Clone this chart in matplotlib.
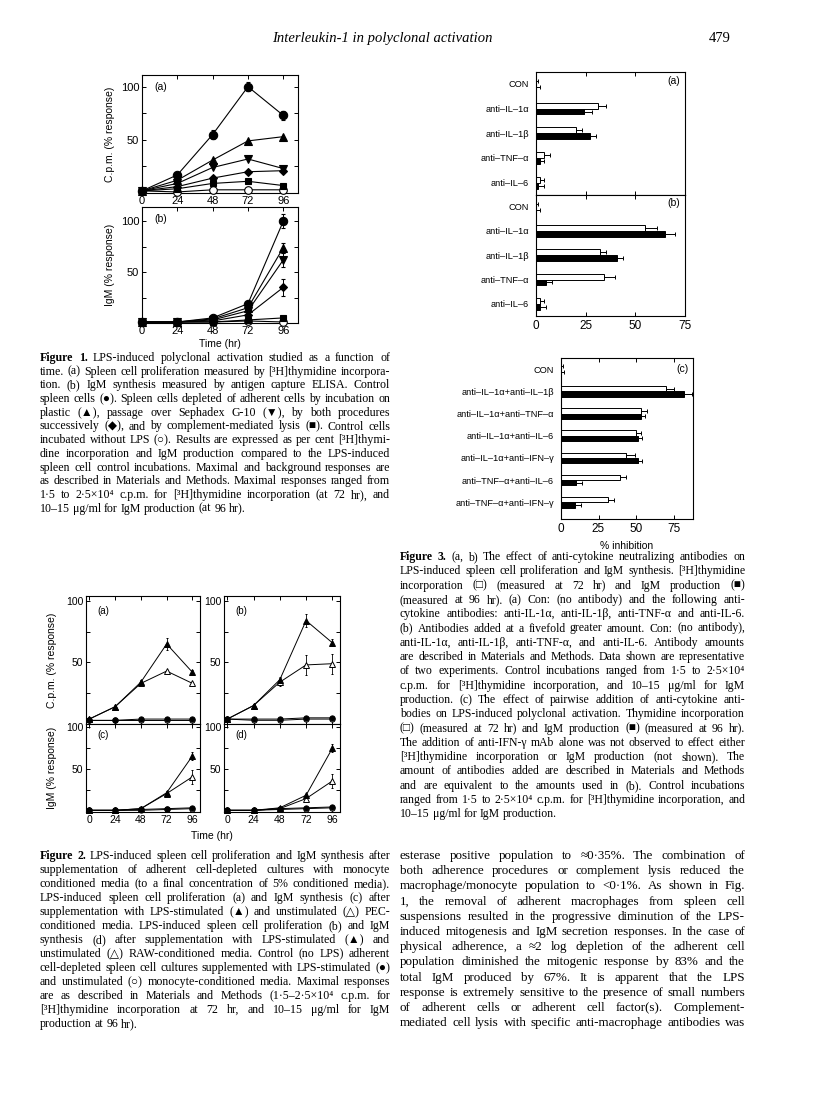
import matplotlib
matplotlib.use("Agg")
import matplotlib.pyplot as plt
import numpy as np

W, H = 816, 1108
fig = plt.figure(figsize=(W / 100, H / 100), dpi=100)
fig.patch.set_facecolor("white")

SANS = ["Liberation Sans", "DejaVu Sans"]
SERIF = ["Liberation Serif", "DejaVu Sans"]

# ---------------- data ----------------
times = [0, 24, 48, 72, 96]

# Figure 1 (a) c.p.m. (% response)
f1a_ctrl = [2, 17, 55, 100, 73]
f1a_plastic = [2, 12, 31, 49, 53]
f1a_g10 = [2, 9, 24, 32, 23]
f1a_both = [2, 6, 14, 20, 21]
f1a_lysis = [2, 4, 9, 11, 7]
f1a_nolps = [2, 1, 3, 3, 3]
f1a_ctrl_err = [0, 1, 4, 4, 4]
# Figure 1 (b) IgM (% response)
f1b_ctrl = [1, 1, 5, 19, 100]
f1b_plastic = [1, 1, 4, 15, 74]
f1b_g10 = [1, 1, 3, 12, 62]
f1b_both = [1, 1, 2, 8, 35]
f1b_lysis = [1, 1, 1, 3, 5]
f1b_nolps = [1, 1, 1, 2, 1]
f1b_ctrl_err = [0, 0, 1, 2, 7]
f1b_plastic_err = [0, 0, 1, 1, 5]
f1b_g10_err = [0, 0, 1, 1, 7]
f1b_both_err = [0, 0, 1, 1, 8]

# Figure 2
f2a_lps = [4, 14, 34, 65, 42]
f2a_unstim = [4, 14, 33, 43, 33]
f2a_ctl_lps = [3, 3, 4, 4, 4]
f2a_ctl_un = [3, 3, 3, 3, 3]
f2b_lps = [4, 15, 36, 84, 66]
f2b_unstim = [4, 15, 34, 48, 49]
f2b_ctl_lps = [4, 4, 4, 5, 5]
f2b_ctl_un = [4, 3, 3, 4, 4]
f2c_lps = [1, 1, 3, 22, 66]
f2c_unstim = [1, 1, 3, 21, 41]
f2c_ctl_lps = [1, 1, 2, 3, 4]
f2c_ctl_un = [1, 1, 1, 2, 3]
f2d_lps = [1, 1, 4, 19, 75]
f2d_unstim = [1, 1, 3, 15, 36]
f2d_ctl_lps = [1, 1, 3, 4, 5]
f2d_ctl_un = [1, 1, 2, 3, 4]
f2a_lps_err = [0, 1, 2, 5, 2]
f2b_lps_err = [0, 1, 2, 5, 3]
f2b_unstim_err = [0, 1, 3, 8, 8]
f2c_lps_err = [0, 0, 1, 2, 5]
f2c_unstim_err = [0, 0, 1, 2, 8]
f2d_lps_err = [0, 0, 1, 2, 5]
f2d_unstim_err = [0, 0, 1, 3, 8]

# Figure 3
f3ab_cats = ["CON", "anti\u2013IL\u20131\u03b1", "anti\u2013IL\u20131\u03b2", "anti\u2013TNF\u2013\u03b1", "anti\u2013IL\u20136"]
f3a_thy = [0, 31, 20, 4, 2]
f3a_thy_err = [1, 4, 3, 3, 2]
f3a_igm = [0, 24, 27, 2, 1]
f3a_igm_err = [2, 4, 3, 2, 3]
f3b_thy = [0, 55, 32, 34, 2]
f3b_thy_err = [1, 6, 3, 6, 2]
f3b_igm = [0, 65, 41, 5, 2]
f3b_igm_err = [2, 5, 3, 3, 3]
f3c_cats = ["CON", "anti\u2013IL\u20131\u03b1+anti\u2013IL\u20131\u03b2", "anti\u2013IL\u20131\u03b1+anti\u2013TNF\u2013\u03b1",
            "anti\u2013IL\u20131\u03b1+anti\u2013IL\u20136", "anti\u2013IL\u20131\u03b1+anti\u2013IFN\u2013\u03b3",
            "anti\u2013TNF\u2013\u03b1+anti\u2013IL\u20136", "anti\u2013TNF\u2013\u03b1+anti\u2013IFN\u2013\u03b3"]
f3c_thy = [0, 70, 53, 50, 43, 39, 31]
f3c_thy_err = [1, 5, 4, 3, 6, 4, 4]
f3c_igm = [0, 82, 53, 51, 51, 10, 9]
f3c_igm_err = [2, 5, 3, 3, 3, 4, 4]
f3_ticks = [0, 25, 50, 75]


# ---------------- helpers ----------------
def ax_px(l, t, r, b):
    return fig.add_axes([l / W, 1 - b / H, (r - l) / W, (b - t) / H])


def txt(x, y, s, **kw):
    return fig.text(x / W, 1 - y / H, s, **kw)


renderer = fig.canvas.get_renderer()


def _words(lines, x0, y0, dy, size, bold_first, family):
    out = []
    for i, line in enumerate(lines):
        row = []
        for j, w in enumerate(line.split(" ")):
            wt = "bold" if (i == 0 and j < bold_first) else "normal"
            t = txt(x0, y0 + i * dy, w, fontsize=size, family=family, weight=wt,
                    ha="left", va="baseline")
            row.append(t)
        out.append(row)
    return out


def justified(lines, x0, x1, y0, dy, size, bold_first=0, last_left=True, family=SERIF,
              fit=0.985):
    n = len(lines)
    rows = _words(lines, x0, y0, dy, size, bold_first, family)
    space = size * 0.25 * 100 / 72
    ratio = 0
    for i, row in enumerate(rows):
        if i == n - 1 and last_left:
            continue
        wsum = sum(t.get_window_extent(renderer).width for t in row)
        ratio = max(ratio, (wsum + space * (len(row) - 1)) / (x1 - x0))
    for row in rows:
        for t in row:
            t.remove()
    size = size / ratio * fit
    rows = _words(lines, x0, y0, dy, size, bold_first, family)
    space = size * 0.25 * 100 / 72
    for i, row in enumerate(rows):
        widths = [t.get_window_extent(renderer).width for t in row]
        if (i == n - 1 and last_left) or len(row) == 1:
            gap = space
        else:
            gap = (x1 - x0 - sum(widths)) / (len(row) - 1)
        x = x0
        for t, w in zip(row, widths):
            t.set_x(x / W)
            x += w + gap


def style_ax(ax, size):
    ax.tick_params(direction="in", top=True, right=True, length=3, width=0.7,
                   labelsize=size, pad=2)
    ax.tick_params(which="minor", direction="in", top=True, right=True, length=3, width=0.7)
    for s in ax.spines.values():
        s.set_linewidth(0.8)
    for lab in ax.get_xticklabels() + ax.get_yticklabels():
        lab.set_family(SANS)


# ---------------- header ----------------
txt(382, 42, "Interleukin-1 in polyclonal activation", fontsize=10.5, family=SERIF,
    style="italic", ha="center", va="baseline")
txt(731, 42, "479", fontsize=10.5, family=SERIF, ha="right", va="baseline")

# ---------------- Figure 1 ----------------
def f1_series(ax, ys, marker, filled=True, err=None, ms=5.5):
    ax.errorbar(times, ys, yerr=err, color="black", lw=0.8, elinewidth=0.7, capsize=1.2,
                marker=marker, ms=ms, mfc="black" if filled else "white", mec="black",
                mew=0.8, clip_on=False, zorder=3)

ax1a = ax_px(142, 75, 298, 193)
ax1a.set_xlim(0, 106)
ax1a.set_ylim(0, 111)
f1_series(ax1a, f1a_nolps, "o", filled=False)
f1_series(ax1a, f1a_lysis, "s", ms=5)
f1_series(ax1a, f1a_both, "D", ms=4.2)
f1_series(ax1a, f1a_g10, "v")
f1_series(ax1a, f1a_plastic, "^")
f1_series(ax1a, f1a_ctrl, "o", err=f1a_ctrl_err, ms=6)
ax1a.set_xticks(times)
ax1a.set_yticks([50, 100])
ax1a.set_yticks([25, 75], minor=True)
ax1a.set_ylabel("C.p.m. (% response)", fontsize=7.5, family=SANS, labelpad=4)
ax1a.text(0.08, 0.9, "(a)", transform=ax1a.transAxes, fontsize=7.5, family=SANS, va="center")
style_ax(ax1a, 8)

ax1b = ax_px(142, 207, 298, 323)
ax1b.set_xlim(0, 106)
ax1b.set_ylim(0, 114)
f1_series(ax1b, f1b_nolps, "o", filled=False)
f1_series(ax1b, f1b_lysis, "s", ms=5)
f1_series(ax1b, f1b_both, "D", ms=4.2, err=f1b_both_err)
f1_series(ax1b, f1b_g10, "v", err=f1b_g10_err)
f1_series(ax1b, f1b_plastic, "^", err=f1b_plastic_err)
f1_series(ax1b, f1b_ctrl, "o", err=f1b_ctrl_err, ms=6)
ax1b.set_xticks(times)
ax1b.set_yticks([50, 100])
ax1b.set_yticks([25, 75], minor=True)
ax1b.set_ylabel("IgM (% response)", fontsize=7.5, family=SANS, labelpad=4)
ax1b.set_xlabel("Time (hr)", fontsize=7.5, family=SANS, labelpad=2)
ax1b.text(0.08, 0.9, "(b)", transform=ax1b.transAxes, fontsize=7.5, family=SANS, va="center")
style_ax(ax1b, 8)

fig1_caption = [
    "Figure 1. LPS-induced polyclonal activation studied as a function of",
    "time. (a) Spleen cell proliferation measured by [\u00b3H]thymidine incorpora-",
    "tion. (b) IgM synthesis measured by antigen capture ELISA. Control",
    "spleen cells (\u25cf). Spleen cells depleted of adherent cells by incubation on",
    "plastic (\u25b2), passage over Sephadex G-10 (\u25bc), by both procedures",
    "successively (\u25c6), and by complement-mediated lysis (\u25a0). Control cells",
    "incubated without LPS (\u25cb). Results are expressed as per cent [\u00b3H]thymi-",
    "dine incorporation and IgM production compared to the LPS-induced",
    "spleen cell control incubations. Maximal and background responses are",
    "as described in Materials and Methods. Maximal responses ranged from",
    "1\u00b75 to 2\u00b75\u00d710\u2074 c.p.m. for [\u00b3H]thymidine incorporation (at 72 hr), and",
    "10\u201315 \u03bcg/ml for IgM production (at 96 hr).",
]
justified(fig1_caption, 40, 390, 361, 13.7, 8.0, bold_first=2)

# ---------------- Figure 2 ----------------
def f2_panel(rect, lps, un, clps, cun, ylim, label, lps_err=None, un_err=None,
             bottom=False):
    ax = ax_px(*rect)
    ax.set_xlim(-3, 103)
    ax.set_ylim(*ylim)
    kw = dict(color="black", lw=0.7, elinewidth=0.6, capsize=1.0, ms=3.8, mew=0.7,
              clip_on=False, zorder=3)
    ax.errorbar(times, cun, marker="o", mfc="white", mec="black", **kw)
    ax.errorbar(times, clps, marker="o", mfc="black", mec="black", **kw)
    ax.errorbar(times, un, yerr=un_err, marker="^", mfc="white", mec="black", **kw)
    ax.errorbar(times, lps, yerr=lps_err, marker="^", mfc="black", mec="black", **kw)
    ax.set_xticks(times)
    ax.set_yticks([50, 100])
    ax.set_yticks([25, 75], minor=True)
    if not bottom:
        ax.set_xticklabels([])
    ax.text(0.1, 0.88, label, transform=ax.transAxes, fontsize=7, family=SANS, va="center")
    style_ax(ax, 7.5)
    return ax

ax2a = f2_panel((86, 596, 200, 724), f2a_lps, f2a_unstim, f2a_ctl_lps, f2a_ctl_un, (0, 104), "(a)",
                lps_err=f2a_lps_err)
ax2b = f2_panel((224, 596, 340, 724), f2b_lps, f2b_unstim, f2b_ctl_lps, f2b_ctl_un, (0, 104), "(b)",
                lps_err=f2b_lps_err, un_err=f2b_unstim_err)
ax2c = f2_panel((86, 724, 200, 812), f2c_lps, f2c_unstim, f2c_ctl_lps, f2c_ctl_un, (-1, 104), "(c)",
                lps_err=f2c_lps_err, un_err=f2c_unstim_err, bottom=True)
ax2d = f2_panel((224, 724, 340, 812), f2d_lps, f2d_unstim, f2d_ctl_lps, f2d_ctl_un, (-1, 104), "(d)",
                lps_err=f2d_lps_err, un_err=f2d_unstim_err, bottom=True)
txt(52, 660, "C.p.m. (% response)", fontsize=7.5, family=SANS, rotation=90, ha="center", va="center")
txt(52, 768, "IgM (% response)", fontsize=7.5, family=SANS, rotation=90, ha="center", va="center")
txt(212, 836, "Time (hr)", fontsize=7.5, family=SANS, ha="center", va="center")

fig2_caption = [
    "Figure 2. LPS-induced spleen cell proliferation and IgM synthesis after",
    "supplementation of adherent cell-depleted cultures with monocyte",
    "conditioned media (to a final concentration of 5% conditioned media).",
    "LPS-induced spleen cell proliferation (a) and IgM synthesis (c) after",
    "supplementation with LPS-stimulated (\u25b2) and unstimulated (\u25b3) PEC-",
    "conditioned media. LPS-induced spleen cell proliferation (b) and IgM",
    "synthesis (d) after supplementation with LPS-stimulated (\u25b2) and",
    "unstimulated (\u25b3) RAW-conditioned media. Control (no LPS) adherent",
    "cell-depleted spleen cell cultures supplemented with LPS-stimulated (\u25cf)",
    "and unstimulated (\u25cb) monocyte-conditioned media. Maximal responses",
    "are as described in Materials and Methods (1\u00b75\u20132\u00b75\u00d710\u2074 c.p.m. for",
    "[\u00b3H]thymidine incorporation at 72 hr, and 10\u201315 \u03bcg/ml for IgM",
    "production at 96 hr).",
]
justified(fig2_caption, 40, 390, 859, 14.0, 8.0, bold_first=2)

# ---------------- Figure 3 ----------------
def f3_panel(rect, cats, thy, thy_err, igm, igm_err, label, ylim, xlim, ticklabels, xlabel=None):
    ax = ax_px(*rect)
    y = np.arange(len(cats))
    h = 0.24
    ax.barh(y - h / 2, thy, height=h, color="white", edgecolor="black", lw=0.7, zorder=2)
    ax.barh(y + h / 2, igm, height=h, color="black", edgecolor="black", lw=0.7, zorder=2)
    ax.errorbar(thy, y - h / 2, xerr=[np.zeros(len(cats)), thy_err], fmt="none",
                ecolor="black", elinewidth=0.7, capsize=1.3, capthick=0.7, zorder=3, clip_on=False)
    ax.errorbar(igm, y + h / 2, xerr=[np.zeros(len(cats)), igm_err], fmt="none",
                ecolor="black", elinewidth=0.7, capsize=1.3, capthick=0.7, zorder=3, clip_on=False)
    ax.set_xlim(*xlim)
    ax.set_ylim(*ylim)
    ax.set_yticks(y)
    ax.set_yticklabels(cats)
    ax.set_xticks(f3_ticks)
    ax.tick_params(axis="y", length=0, pad=5, labelsize=6.7)
    ax.tick_params(axis="x", direction="in", top=True, length=3, width=0.7, labelsize=8.5, pad=3)
    if not ticklabels:
        ax.set_xticklabels([])
    for lab in ax.get_xticklabels() + ax.get_yticklabels():
        lab.set_family(SANS)
    for s in ax.spines.values():
        s.set_linewidth(0.8)
    ax.text(0.97, 0.93, label, transform=ax.transAxes, fontsize=7.5, family=SANS,
            ha="right", va="center")
    if xlabel:
        ax.set_xlabel(xlabel, fontsize=7.5, family=SANS, labelpad=4)
    return ax

ax3a = f3_panel((536, 72, 685, 195), f3ab_cats, f3a_thy, f3a_thy_err, f3a_igm, f3a_igm_err,
                "(a)", (4.5, -0.48), (0, 75), False)
ax3b = f3_panel((536, 195, 685, 316), f3ab_cats, f3b_thy, f3b_thy_err, f3b_igm, f3b_igm_err,
                "(b)", (4.5, -0.48), (0, 75), True)
ax3c = f3_panel((561, 358, 693, 519), f3c_cats, f3c_thy, f3c_thy_err, f3c_igm, f3c_igm_err,
                "(c)", (6.75, -0.5), (0, 88), True, xlabel="% inhibition")

fig3_caption = [
    "Figure 3. (a, b) The effect of anti-cytokine neutralizing antibodies on",
    "LPS-induced spleen cell proliferation and IgM synthesis. [\u00b3H]thymidine",
    "incorporation (\u25a1) (measured at 72 hr) and IgM production (\u25a0)",
    "(measured at 96 hr). (a) Con: (no antibody) and the following anti-",
    "cytokine antibodies: anti-IL-1\u03b1, anti-IL-1\u03b2, anti-TNF-\u03b1 and anti-IL-6.",
    "(b) Antibodies added at a fivefold greater amount. Con: (no antibody),",
    "anti-IL-1\u03b1, anti-IL-1\u03b2, anti-TNF-\u03b1, and anti-IL-6. Antibody amounts",
    "are described in Materials and Methods. Data shown are representative",
    "of two experiments. Control incubations ranged from 1\u00b75 to 2\u00b75\u00d710\u2074",
    "c.p.m. for [\u00b3H]thymidine incorporation, and 10\u201315 \u03bcg/ml for IgM",
    "production. (c) The effect of pairwise addition of anti-cytokine anti-",
    "bodies on LPS-induced polyclonal activation. Thymidine incorporation",
    "(\u25a1) (measured at 72 hr) and IgM production (\u25a0) (measured at 96 hr).",
    "The addition of anti-IFN-\u03b3 mAb alone was not observed to effect either",
    "[\u00b3H]thymidine incorporation or IgM production (not shown). The",
    "amount of antibodies added are described in Materials and Methods",
    "and are equivalent to the amounts used in (b). Control incubations",
    "ranged from 1\u00b75 to 2\u00b75\u00d710\u2074 c.p.m. for [\u00b3H]thymidine incorporation, and",
    "10\u201315 \u03bcg/ml for IgM production.",
]
justified(fig3_caption, 400, 745, 560, 14.3, 8.0, bold_first=2)

body = [
    "esterase positive population to \u22480\u00b735%. The combination of",
    "both adherence procedures or complement lysis reduced the",
    "macrophage/monocyte population to <0\u00b71%. As shown in Fig.",
    "1, the removal of adherent macrophages from spleen cell",
    "suspensions resulted in the progressive diminution of the LPS-",
    "induced mitogenesis and IgM secretion responses. In the case of",
    "physical adherence, a \u22482 log depletion of the adherent cell",
    "population diminished the mitogenic response by 83% and the",
    "total IgM produced by 67%. It is apparent that the LPS",
    "response is extremely sensitive to the presence of small numbers",
    "of adherent cells or adherent cell factor(s). Complement-",
    "mediated cell lysis with specific anti-macrophage antibodies was",
]
justified(body, 400, 745, 859, 15.2, 9.0, last_left=False)

fig.savefig("out.png", dpi=100, facecolor="white")
